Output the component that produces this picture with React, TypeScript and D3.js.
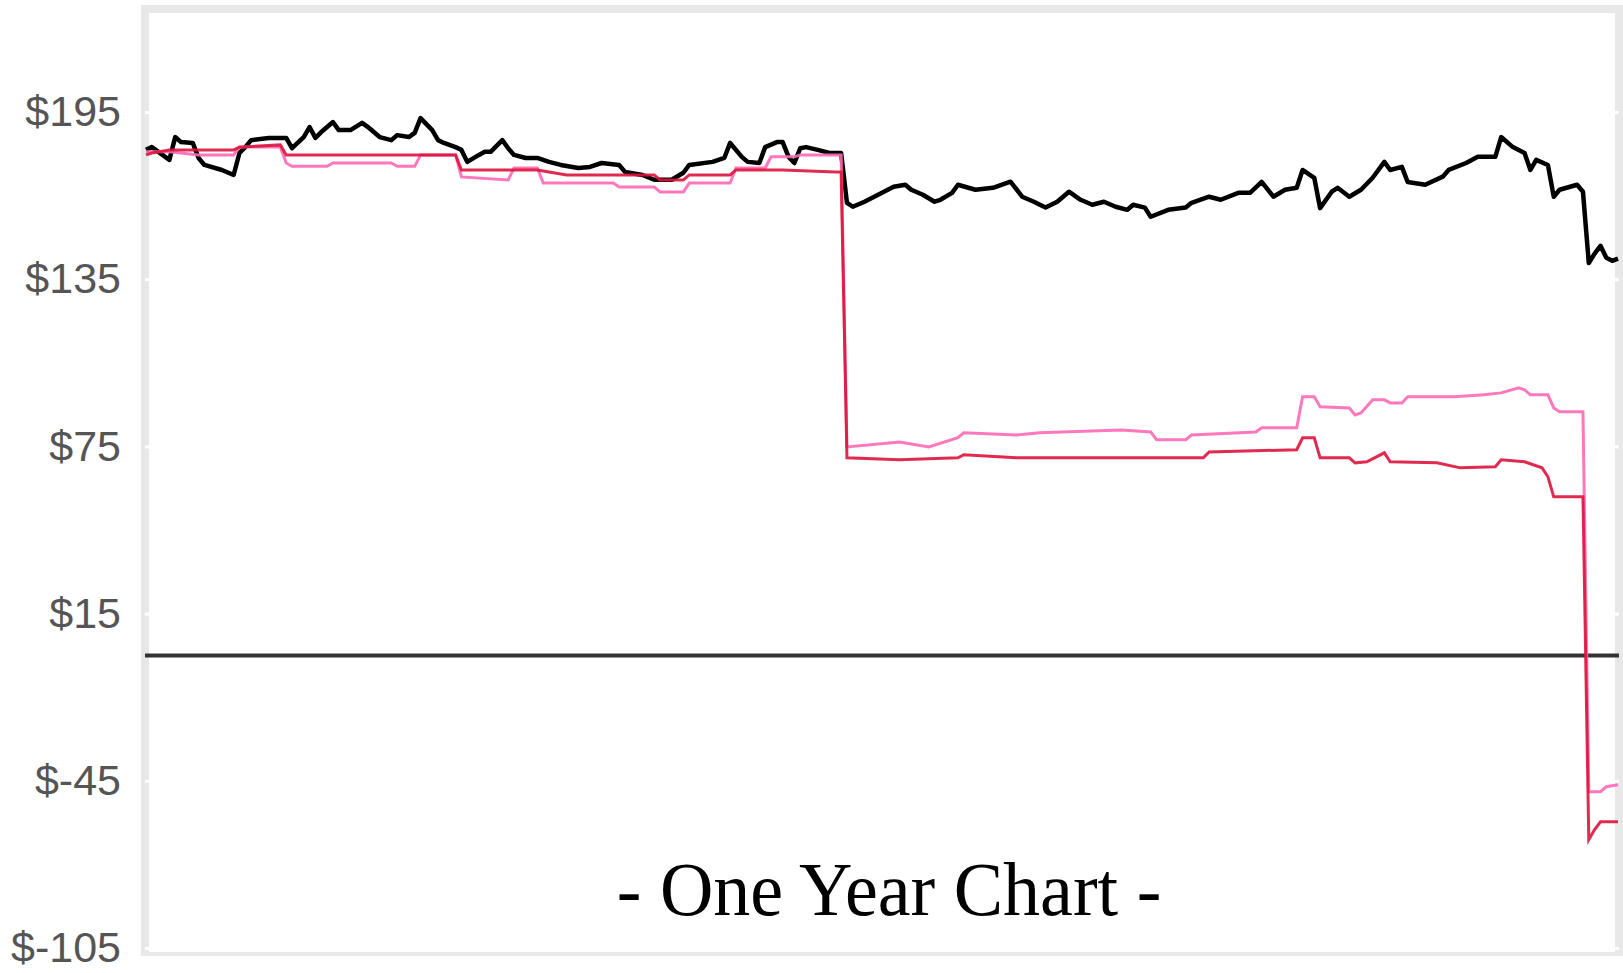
import React, { useEffect, useRef } from 'react';
import * as d3 from 'd3';

// trading-day index within the year, and closing values
const blackDays = [0, 1, 4, 5, 6, 8, 9, 10, 13, 15,
  16, 17, 18, 21, 24, 25, 27, 28, 29, 30,
  32, 33, 35, 37, 38, 40, 42, 43, 45, 46,
  47, 49, 50, 51, 53, 54, 55, 57, 58, 59,
  61, 62, 63, 65, 67, 69, 71, 74, 76, 78,
  81, 82, 85, 87, 90, 92, 93, 97, 99, 100,
  102, 103, 105, 106, 108, 109, 110, 111, 112, 113,
  115, 117, 119, 120, 121, 123, 126, 128, 130, 131,
  133, 135, 136, 138, 139, 142, 145, 148, 150, 152,
  154, 156, 158, 160, 162, 164, 166, 168, 169, 171,
  172, 175, 178, 179, 182, 184, 187, 189, 191, 193,
  195, 197, 198, 200, 201, 203, 204, 206, 208, 210,
  212, 213, 215, 216, 219, 222, 223, 226, 228, 231,
  232, 234, 236, 237, 238, 240, 241, 242, 245, 246,
  247, 248, 249, 250, 251, 252];
const blackPrices = [181.4, 182.4, 177.8, 186.0, 184.2, 183.9, 178.5, 176.0, 174.2, 172.4,
  180.3, 182.4, 184.9, 185.7, 185.7, 182.0, 186.0, 189.6, 185.7, 187.8,
  191.4, 188.5, 188.5, 191.1, 189.6, 186.0, 184.9, 186.7, 186.0, 187.5,
  192.8, 188.5, 184.9, 183.9, 182.4, 181.4, 177.1, 179.6, 180.7, 180.7,
  184.9, 182.0, 179.6, 178.5, 178.5, 177.1, 176.0, 174.9, 175.3, 176.7,
  176.0, 173.5, 172.4, 170.7, 170.7, 173.2, 176.0, 177.1, 178.5, 183.9,
  178.9, 177.1, 176.7, 182.4, 184.2, 184.2, 178.9, 176.7, 182.0, 182.4,
  181.4, 180.3, 180.3, 162.4, 161.0, 162.8, 166.0, 168.2, 168.9, 167.1,
  165.3, 162.8, 163.5, 166.0, 168.9, 167.1, 167.8, 170.0, 164.6, 162.8,
  160.7, 162.8, 166.4, 163.5, 161.7, 162.8, 161.0, 159.9, 161.7, 160.7,
  157.4, 159.9, 160.7, 162.4, 164.6, 163.5, 166.0, 166.0, 169.9, 164.6,
  167.1, 167.8, 174.2, 171.4, 160.5, 166.4, 167.8, 164.6, 167.1, 171.4,
  177.1, 174.2, 175.3, 169.9, 168.9, 171.8, 174.2, 176.7, 178.9, 178.9,
  186.0, 182.4, 180.3, 174.2, 177.8, 176.0, 164.6, 167.1, 168.9, 166.4,
  140.8, 144.2, 147.0, 142.7, 141.6, 142.4];

const pinkDays = [0, 4, 9, 15, 16, 23, 24, 25, 31, 32,
  42, 43, 46, 47, 53, 54, 62, 63, 67, 68,
  80, 81, 87, 88, 92, 93, 100, 101, 106, 107,
  111, 112, 119, 120, 129, 134, 139, 140, 149, 153,
  167, 172, 173, 178, 179, 190, 191, 197, 198, 200,
  201, 206, 207, 208, 210, 212, 213, 215, 216, 224,
  229, 232, 235, 236, 237, 240, 241, 242, 246, 247,
  249, 250, 252];
const pinkValues = [180.7, 180.7, 179.6, 179.6, 182.4, 182.4, 176.7, 175.5, 175.5, 176.7,
  176.7, 175.5, 175.5, 179.6, 179.6, 171.7, 170.6, 174.9, 174.9, 169.5,
  169.5, 168.1, 168.1, 166.3, 166.3, 169.5, 169.5, 174.9, 174.9, 178.9,
  178.9, 179.6, 179.6, 74.8, 76.6, 74.8, 78.1, 79.9, 79.1, 79.9,
  80.9, 80.2, 77.4, 77.4, 79.1, 80.2, 81.7, 81.7, 92.8, 92.8,
  89.2, 88.8, 86.3, 87.0, 91.7, 91.7, 90.6, 90.6, 92.8, 92.8,
  93.5, 94.2, 96.0, 95.3, 93.5, 93.5, 88.8, 87.4, 87.4, -48.9,
  -48.9, -47.1, -46.4];

const redDays = [0, 1, 4, 15, 16, 23, 24, 53, 54, 67,
  69, 72, 87, 88, 92, 93, 100, 101, 109, 118,
  119, 120, 129, 139, 140, 149, 181, 182, 197, 198,
  200, 201, 206, 207, 209, 212, 213, 221, 225, 231,
  232, 236, 239, 240, 241, 246, 247, 248, 249, 252];
const redValues = [179.6, 180.3, 181.4, 181.4, 182.4, 183.2, 179.6, 179.6, 174.2, 174.2,
  173.5, 172.4, 172.4, 170.6, 170.6, 172.4, 172.4, 174.2, 174.2, 173.5,
  173.5, 70.9, 70.2, 70.9, 72.0, 70.9, 70.9, 73.0, 73.8, 78.1,
  78.1, 70.9, 70.9, 69.1, 69.5, 72.7, 69.5, 69.1, 67.3, 67.7,
  70.2, 69.5, 67.3, 64.1, 56.9, 56.9, -66.1, -62.5, -59.7, -59.7];

const yTicks = [-105, -45, 15, 75, 135, 195];
const chartTitle = '- One Year Chart -';

const W = 1623;
const H = 973;

const App = () => {
  const svgRef = useRef(null);

  useEffect(() => {
    const svg = d3.select(svgRef.current);
    svg.selectAll('*').remove();

    const x = d3.scaleLinear().domain([0, 252]).range([146, 1618]);
    const y = d3.scaleLinear().domain([-105, 195]).range([948, 112]);

    // grey frame round the plot
    const frame = '#e8e8e8';
    svg.append('rect').attr('x', 141).attr('y', 5).attr('width', 8).attr('height', 951).attr('fill', frame);
    svg.append('rect').attr('x', 141).attr('y', 5).attr('width', W - 141).attr('height', 8).attr('fill', frame);
    svg.append('rect').attr('x', 1615).attr('y', 5).attr('width', 8).attr('height', 951).attr('fill', frame);
    svg.append('rect').attr('x', 141).attr('y', 952).attr('width', W - 141).attr('height', 4).attr('fill', frame);

    const left = svg.append('g')
      .attr('transform', 'translate(149,0)')
      .call(d3.axisLeft(y).tickValues(yTicks).tickSize(4).tickPadding(24).tickFormat(d => `$${d}`));
    left.select('.domain').remove();
    left.selectAll('line').attr('stroke', '#fff').attr('stroke-width', 3);
    left.selectAll('text')
      .attr('fill', '#555')
      .style('font-family', '"Liberation Sans", Arial, sans-serif')
      .style('font-size', '43px');

    const right = svg.append('g')
      .attr('transform', 'translate(1615,0)')
      .call(d3.axisRight(y).tickValues(yTicks).tickSize(4).tickFormat(() => ''));
    right.select('.domain').remove();
    right.selectAll('line').attr('stroke', '#fff').attr('stroke-width', 3);

    // zero line
    svg.append('line')
      .attr('x1', 145).attr('x2', 1619)
      .attr('y1', y(0)).attr('y2', y(0))
      .attr('stroke', '#333').attr('stroke-width', 4);

    const line = d3.line().x(d => x(d[0])).y(d => y(d[1]));

    svg.append('path')
      .datum(blackDays.map((d, i) => [d, blackPrices[i]]))
      .attr('d', line)
      .attr('fill', 'none')
      .attr('stroke', '#000')
      .attr('stroke-width', 4.5)
      .attr('stroke-linejoin', 'round');

    svg.append('path')
      .datum(pinkDays.map((d, i) => [d, pinkValues[i]]))
      .attr('d', line)
      .attr('fill', 'none')
      .attr('stroke', '#ff69b4')
      .attr('stroke-opacity', 0.9)
      .attr('stroke-width', 3);

    svg.append('path')
      .datum(redDays.map((d, i) => [d, redValues[i]]))
      .attr('d', line)
      .attr('fill', 'none')
      .attr('stroke', '#dc143c')
      .attr('stroke-opacity', 0.9)
      .attr('stroke-width', 3);

    svg.append('text')
      .attr('transform', 'translate(889,915) scale(1,1.03)')
      .attr('text-anchor', 'middle')
      .style('font-family', '"Liberation Serif", "Times New Roman", serif')
      .style('font-size', '74px')
      .attr('fill', '#000')
      .text(chartTitle);
  }, []);

  return (
    <div style={{ position: 'absolute', left: 0, top: 0, width: W, height: H, background: '#fff' }}>
      <svg ref={svgRef} width={W} height={H} style={{ display: 'block' }}></svg>
    </div>
  );
};

export default App;
